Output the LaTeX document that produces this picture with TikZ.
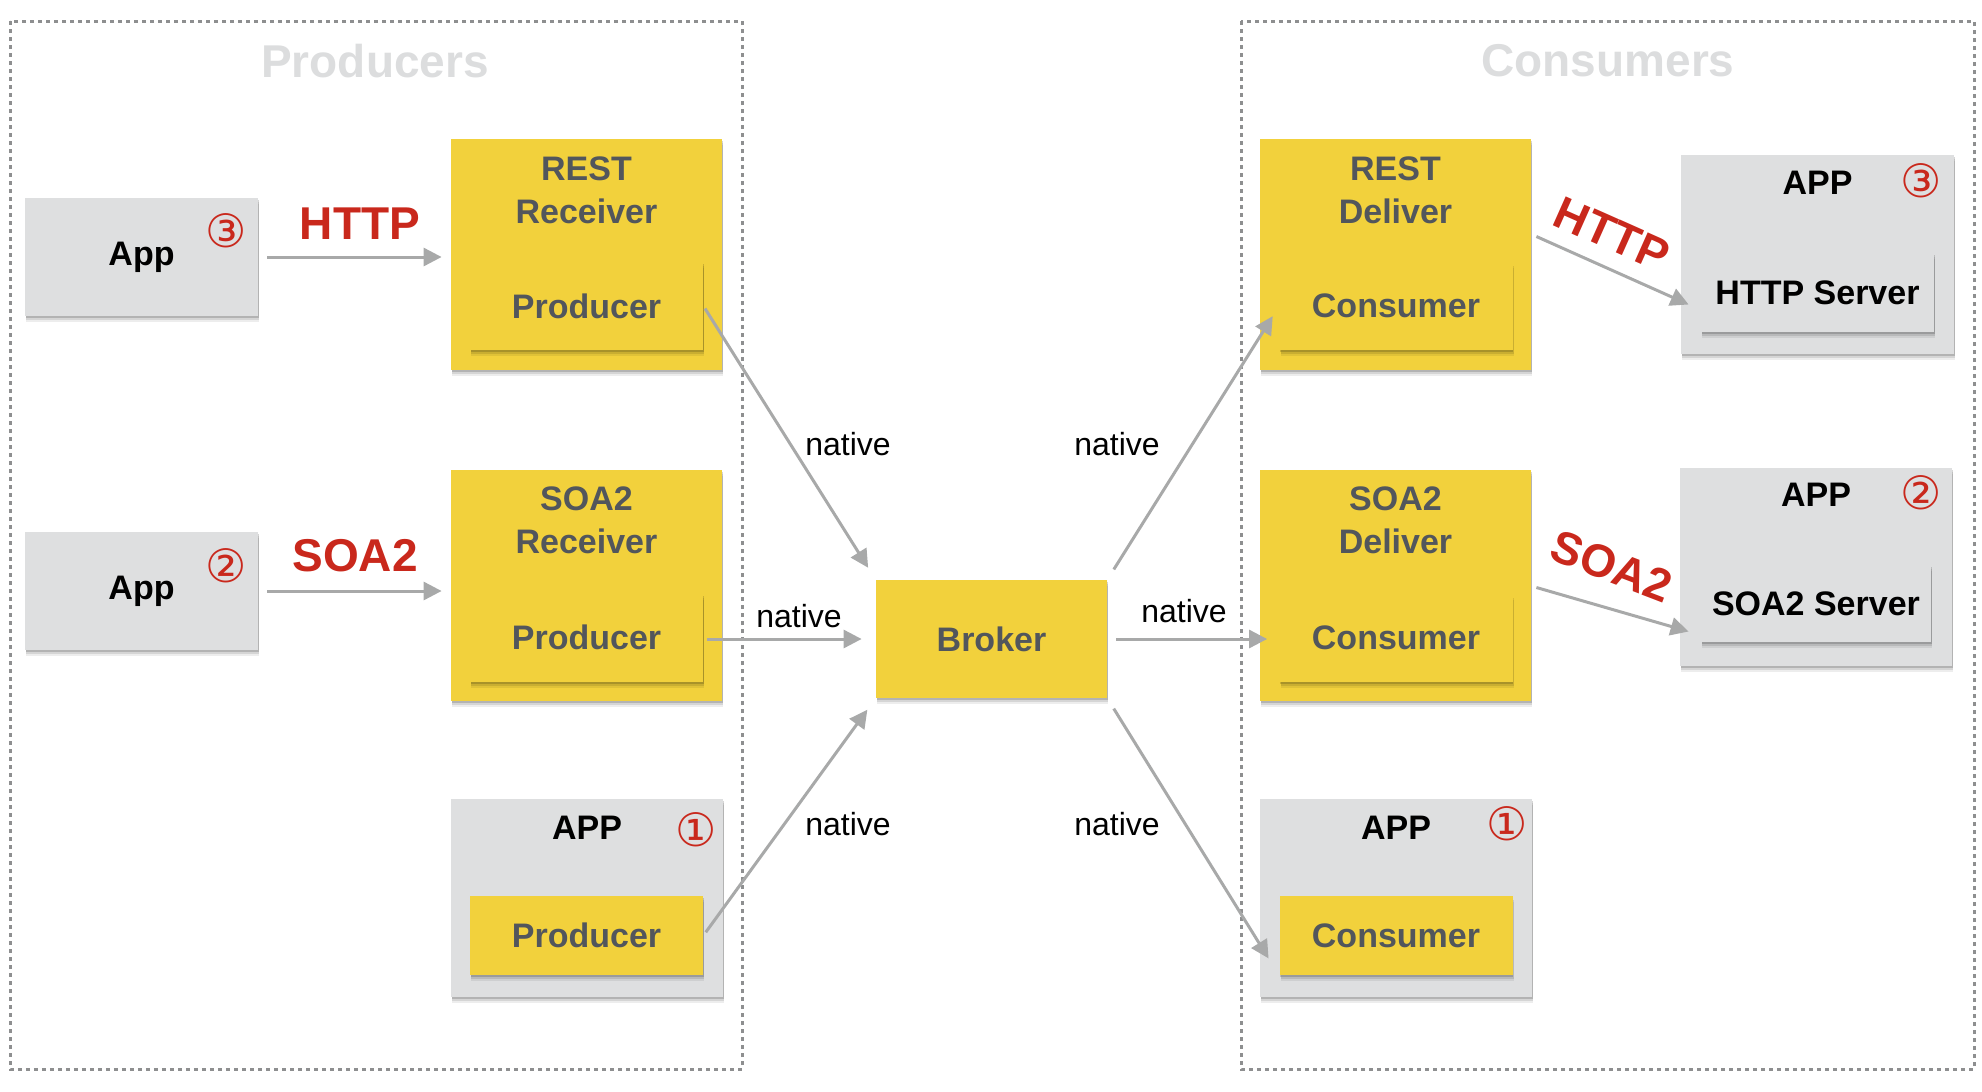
\documentclass[tikz,border=0pt]{standalone}
\usepackage{fontspec}
\setmainfont{Liberation Sans}
\newfontfamily\circfont{DejaVu Sans}
\usetikzlibrary{positioning}
\usetikzlibrary{shadows}
\usetikzlibrary{arrows.meta}

\definecolor{boxyellow}{HTML}{F2D13C}
\definecolor{boxgray}{HTML}{DEDFE0}
\definecolor{txtgray}{HTML}{52565C}
\definecolor{protored}{HTML}{C9281C}
\definecolor{arrowgray}{HTML}{A8A9A9}
\definecolor{dotgray}{HTML}{8E8F90}
\definecolor{titlegray}{HTML}{DCDDDE}

\begin{document}
\begin{tikzpicture}[x=0.5pt, y=-0.5pt,
	shade/.style={drop shadow={shadow xshift=0.6pt, shadow yshift=-3.2pt, opacity=0.07, fill=black},
		drop shadow={shadow xshift=0.5pt, shadow yshift=-2.2pt, opacity=0.1, fill=black},
		drop shadow={shadow xshift=0.3pt, shadow yshift=-1.2pt, opacity=0.16, fill=black}},
	ybox/.style={fill=boxyellow, inner sep=0pt, shade, text=txtgray, font=\fontsize{17}{21.5}\selectfont\bfseries, align=center},
	gbox/.style={fill=boxgray, inner sep=0pt, shade, text=black, font=\fontsize{17}{21.5}\selectfont\bfseries, align=center},
	boxtxt/.style={inner sep=0pt, font=\fontsize{17}{21.5}\selectfont\bfseries, align=center},
	numtxt/.style={inner sep=0pt, text=protored, font=\circfont\fontsize{23}{23}\selectfont},
	prototxt/.style={inner sep=0pt, text=protored, font=\fontsize{23}{23}\selectfont\bfseries},
	nattxt/.style={inner sep=0pt, font=\fontsize{16}{16}\selectfont},
	grouptxt/.style={inner sep=0pt, text=titlegray, font=\fontsize{23}{23}\selectfont\bfseries},
	frame/.style={draw=dotgray, line width=1.5pt, dash pattern=on 2pt off 2pt},
	conn/.style={draw=arrowgray, line width=1.5pt, -{Triangle[length=9pt,width=9pt]}}]

	\useasboundingbox (0,0) rectangle (1982,1092);

	% groups
	\draw[frame] (10,21) rectangle (742,1069);
	\draw[frame] (1241,21) rectangle (1974,1069);
	\node[grouptxt] (GP) at (375,61) {Producers};
	\node[grouptxt] (GC) at (1608,61) {Consumers};

	% producers side
	\node[gbox, minimum width=116.5pt, minimum height=59pt] (AppL3) at (141.5,257) {App};
	\node[numtxt] (NL3) at (226,231) {③};
	\node[gbox, minimum width=116.5pt, minimum height=59pt] (AppL2) at (141.5,591) {App};
	\node[numtxt] (NL2) at (226,566) {②};

	\node[ybox, minimum width=135.5pt, minimum height=115.5pt] (RecvR) at (586.5,254.5) {};
	\node[boxtxt, text=txtgray] (TRecvR) at (586.5,190) {REST\\Receiver};
	\node[ybox, minimum width=116.5pt, minimum height=44pt] (ProdR) at (586.5,306) {Producer};

	\node[ybox, minimum width=135.5pt, minimum height=115.5pt] (RecvS) at (586.5,585.5) {};
	\node[boxtxt, text=txtgray] (TRecvS) at (586.5,520) {SOA2\\Receiver};
	\node[ybox, minimum width=116.5pt, minimum height=44pt] (ProdS) at (586.5,637.5) {Producer};

	\node[gbox, minimum width=136pt, minimum height=99pt] (AppL1) at (587,898) {};
	\node[boxtxt] (TAppL1) at (587,828) {APP};
	\node[numtxt] (NL1) at (696,830) {①};
	\node[ybox, minimum width=116.5pt, minimum height=39.5pt] (ProdN) at (586.5,935.5) {Producer};

	\draw[conn] ([xshift=4.5pt]AppL3.east) -- ([xshift=-4.5pt]AppL3.east -| RecvR.west);
	\node[prototxt] (PHL) at (360,224) {HTTP};
	\draw[conn] ([xshift=4.5pt]AppL2.east) -- ([xshift=-4.5pt]AppL2.east -| RecvS.west);
	\node[prototxt] (PSL) at (355,556) {SOA2};

	% broker
	\node[ybox, minimum width=115.5pt, minimum height=59pt] (Broker) at (991.5,639) {Broker};

	\draw[conn, shorten <=1.5pt, shorten >=7pt] (ProdR.east) -- (Broker.north west);
	\draw[conn, shorten <=2pt, shorten >=7pt] (ProdS.east |- Broker.west) -- (Broker.west);
	\draw[conn, shorten <=2pt, shorten >=7pt] (ProdN.east) -- (Broker.south west);
	\node[nattxt] (NA1) at (848,444) {native};
	\node[nattxt] (NA2) at (799,616) {native};
	\node[nattxt] (NA3) at (848,824) {native};

	% consumers side
	\node[ybox, minimum width=135.5pt, minimum height=115.5pt] (DelR) at (1395.5,254.5) {};
	\node[boxtxt, text=txtgray] (TDelR) at (1395.5,190) {REST\\Deliver};
	\node[ybox, minimum width=116.5pt, minimum height=44pt] (ConsR) at (1396,306) {Consumer};

	\node[ybox, minimum width=135.5pt, minimum height=115.5pt] (DelS) at (1395.5,585.5) {};
	\node[boxtxt, text=txtgray] (TDelS) at (1395.5,520) {SOA2\\Deliver};
	\node[ybox, minimum width=116.5pt, minimum height=44pt] (ConsS) at (1396,637.5) {Consumer};

	\node[gbox, minimum width=136pt, minimum height=99pt] (AppR1) at (1396,898) {};
	\node[boxtxt] (TAppR1) at (1396,828) {APP};
	\node[numtxt] (NR1) at (1507,824) {①};
	\node[ybox, minimum width=116.5pt, minimum height=39.5pt] (ConsN) at (1396,935.5) {Consumer};

	\draw[conn, shorten <=6pt, shorten >=6pt] (Broker.north east) -- (ConsR.west);
	\draw[conn, shorten <=4.5pt, shorten >=6pt] (Broker.east) -- (Broker.east -| ConsS.west);
	\draw[conn, shorten <=6pt, shorten >=10pt] (Broker.south east) -- (ConsN.south west);
	\node[nattxt] (NA4) at (1117,444) {native};
	\node[nattxt] (NA5) at (1184,611) {native};
	\node[nattxt] (NA6) at (1117,824) {native};

	\node[gbox, minimum width=136.5pt, minimum height=99.5pt] (AppR3) at (1817.5,254.5) {};
	\node[boxtxt] (TAppR3) at (1817.5,183) {APP};
	\node[numtxt] (NR3) at (1921,181) {③};
	\node[gbox, minimum width=116.5pt, minimum height=39.5pt] (SrvH) at (1817.5,292.5) {HTTP Server};

	\node[gbox, minimum width=136pt, minimum height=99pt] (AppR2) at (1816,567) {};
	\node[boxtxt] (TAppR2) at (1816,495) {APP};
	\node[numtxt] (NR2) at (1921,493) {②};
	\node[gbox, minimum width=115pt, minimum height=38.5pt] (SrvS) at (1816,603.5) {SOA2 Server};

	\draw[conn] ([xshift=2.5pt,yshift=9pt]DelR.east) -- ([xshift=-6pt,yshift=-6pt]SrvH.west);
	\node[prototxt, rotate=-24] (PHR) at (1612,234) {HTTP};
	\draw[conn] ([xshift=2.5pt,yshift=-1pt]DelS.east) -- ([xshift=-6pt,yshift=-14pt]SrvS.west);
	\node[prototxt, rotate=-21] (PSR) at (1612,566) {SOA2};

\end{tikzpicture}
\end{document}
